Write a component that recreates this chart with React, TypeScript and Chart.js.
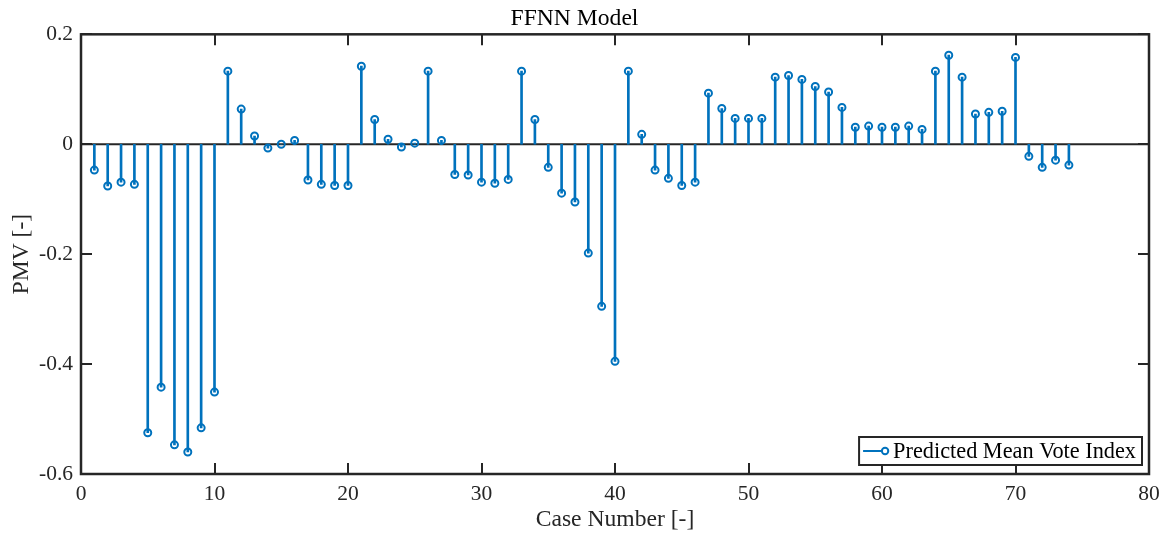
import React, { useEffect, useRef } from "react";
import { Chart, registerables } from "chart.js";

Chart.register(...registerables);

// Case indices and the predicted PMV for each case
const caseNumbers = [
  1, 2, 3, 4, 5, 6, 7, 8, 9, 10,
  11, 12, 13, 14, 15, 16, 17, 18, 19, 20,
  21, 22, 23, 24, 25, 26, 27, 28, 29, 30,
  31, 32, 33, 34, 35, 36, 37, 38, 39, 40,
  41, 42, 43, 44, 45, 46, 47, 48, 49, 50,
  51, 52, 53, 54, 55, 56, 57, 58, 59, 60,
  61, 62, 63, 64, 65, 66, 67, 68, 69, 70,
  71, 72, 73, 74,
];

const pmvValues = [
  -0.047, -0.076, -0.069, -0.073, -0.525, -0.442, -0.547, -0.56, -0.516, -0.451,
  0.133, 0.064, 0.015, -0.007, 0.0, 0.007, -0.065, -0.073, -0.075, -0.075,
  0.142, 0.045, 0.009, -0.005, 0.002, 0.133, 0.007, -0.055, -0.056, -0.069,
  -0.071, -0.064, 0.133, 0.045, -0.042, -0.089, -0.105, -0.198, -0.295, -0.395,
  0.133, 0.018, -0.047, -0.062, -0.075, -0.069, 0.093, 0.065, 0.047, 0.047,
  0.047, 0.122, 0.125, 0.118, 0.105, 0.095, 0.067, 0.031, 0.033, 0.031,
  0.031, 0.033, 0.027, 0.133, 0.162, 0.122, 0.055, 0.058, 0.06, 0.158,
  -0.022, -0.042, -0.029, -0.038,
];

const xTicks = [0, 10, 20, 30, 40, 50, 60, 70, 80];
const yTicks = [-0.6, -0.4, -0.2, 0, 0.2];

const titleText = "FFNN Model";
const xLabel = "Case Number [-]";
const yLabel = "PMV [-]";
const seriesName = "Predicted Mean Vote Index";

const STEM = "#0072BD";
const AXIS = "#262626";
const SERIF = '"Liberation Serif", "Times New Roman", serif';

// Axes box, inward tick marks, stem baseline and the legend
const axesPlugin = {
  id: "matlabAxes",
  beforeDatasetsDraw(chart: any) {
    const { ctx, chartArea, scales } = chart;
    const y0 = scales.y.getPixelForValue(0);
    ctx.save();
    ctx.strokeStyle = AXIS;
    ctx.lineWidth = 2;
    ctx.beginPath();
    ctx.moveTo(chartArea.left, y0);
    ctx.lineTo(chartArea.right, y0);
    ctx.stroke();
    ctx.restore();
  },
  afterDraw(chart: any) {
    const { ctx, chartArea, scales } = chart;
    const { left, right, top, bottom } = chartArea;
    const tick = 11;
    ctx.save();
    ctx.strokeStyle = AXIS;
    ctx.lineWidth = 2;
    ctx.beginPath();
    for (const v of xTicks) {
      const px = Math.round(scales.x.getPixelForValue(v));
      ctx.moveTo(px, bottom);
      ctx.lineTo(px, bottom - tick);
      ctx.moveTo(px, top);
      ctx.lineTo(px, top + tick);
    }
    for (const v of yTicks) {
      const py = Math.round(scales.y.getPixelForValue(v));
      ctx.moveTo(left, py);
      ctx.lineTo(left + tick, py);
      ctx.moveTo(right, py);
      ctx.lineTo(right - tick, py);
    }
    ctx.stroke();
    ctx.lineWidth = 2.5;
    ctx.strokeRect(left, top, right - left, bottom - top);

    // legend
    ctx.font = `22.3px ${SERIF}`;
    const tw = ctx.measureText(seriesName).width;
    const boxW = tw + 40;
    const boxH = 28;
    const bx = right - 7 - boxW;
    const by = bottom - 9 - boxH;
    ctx.fillStyle = "#ffffff";
    ctx.fillRect(bx, by, boxW, boxH);
    ctx.strokeStyle = AXIS;
    ctx.lineWidth = 2;
    ctx.strokeRect(bx, by, boxW, boxH);
    const ly = by + boxH / 2;
    ctx.strokeStyle = STEM;
    ctx.lineWidth = 2;
    ctx.beginPath();
    ctx.moveTo(bx + 4, ly);
    ctx.lineTo(bx + 23, ly);
    ctx.stroke();
    ctx.beginPath();
    ctx.arc(bx + 26, ly, 3.2, 0, Math.PI * 2);
    ctx.stroke();
    ctx.fillStyle = "#000000";
    ctx.textBaseline = "middle";
    ctx.textAlign = "left";
    ctx.fillText(seriesName, bx + 34, ly + 1);
    ctx.restore();
  },
};

export default function App() {
  const canvasRef = useRef<HTMLCanvasElement | null>(null);

  useEffect(() => {
    const canvas = canvasRef.current;
    if (!canvas) return;
    const points = caseNumbers.map((x, i) => ({ x, y: pmvValues[i] }));

    const chart = new Chart(canvas, {
      type: "scatter",
      data: {
        datasets: [
          {
            type: "scatter",
            label: seriesName,
            data: points,
            order: 0,
            pointStyle: "circle",
            pointRadius: 3.5,
            pointBorderWidth: 2,
            pointBorderColor: STEM,
            pointBackgroundColor: "rgba(255,255,255,0)",
            showLine: false,
          } as any,
          {
            type: "bar",
            label: "stems",
            data: points,
            order: 1,
            backgroundColor: STEM,
            borderWidth: 0,
            barThickness: 2,
            grouped: false,
          } as any,
        ],
      },
      options: {
        responsive: false,
        animation: false,
        events: [],
        layout: { padding: { left: 0, right: 25, top: 0, bottom: 0 } },
        plugins: {
          legend: { display: false },
          tooltip: { enabled: false },
          title: {
            display: true,
            text: titleText,
            color: "#000000",
            font: { family: SERIF, size: 23.6, weight: "normal", lineHeight: 1.2 },
            padding: { top: 5, bottom: 1 },
          },
        },
        scales: {
          x: {
            type: "linear",
            min: 0,
            max: 80,
            offset: false,
            grid: { display: false, drawTicks: false },
            border: { display: false },
            afterFit: (s: any) => {
              s.height = 68;
            },
            afterBuildTicks: (s: any) => {
              s.ticks = xTicks.map((v) => ({ value: v }));
            },
            ticks: {
              color: "#262626",
              padding: 7,
              maxRotation: 0,
              autoSkip: false,
              font: { family: SERIF, size: 21.5 },
              callback: (v: any) => String(v),
            },
            title: {
              display: true,
              text: xLabel,
              color: "#262626",
              font: { family: SERIF, size: 23.6, lineHeight: 1.2 },
              padding: { top: 0, bottom: 8 },
            },
          },
          y: {
            type: "linear",
            min: -0.6,
            max: 0.2,
            grid: { display: false, drawTicks: false },
            border: { display: false },
            afterFit: (s: any) => {
              s.width = 81;
            },
            afterBuildTicks: (s: any) => {
              s.ticks = yTicks.map((v) => ({ value: v }));
            },
            ticks: {
              color: "#262626",
              padding: 8,
              autoSkip: false,
              font: { family: SERIF, size: 21.5 },
              callback: (v: any) => (Math.abs(v) < 1e-9 ? "0" : Number(v).toFixed(1)),
            },
            title: {
              display: true,
              text: yLabel,
              color: "#262626",
              font: { family: SERIF, size: 23.6, lineHeight: 1.2 },
              padding: { top: 8, bottom: 0 },
            },
          },
        },
      },
      plugins: [axesPlugin],
    });

    return () => chart.destroy();
  }, []);

  return (
    <div style={{ position: "fixed", left: 0, top: 0, width: 1174, height: 542, background: "#ffffff" }}>
      <canvas ref={canvasRef} width={1174} height={542} style={{ display: "block" }} />
    </div>
  );
}
